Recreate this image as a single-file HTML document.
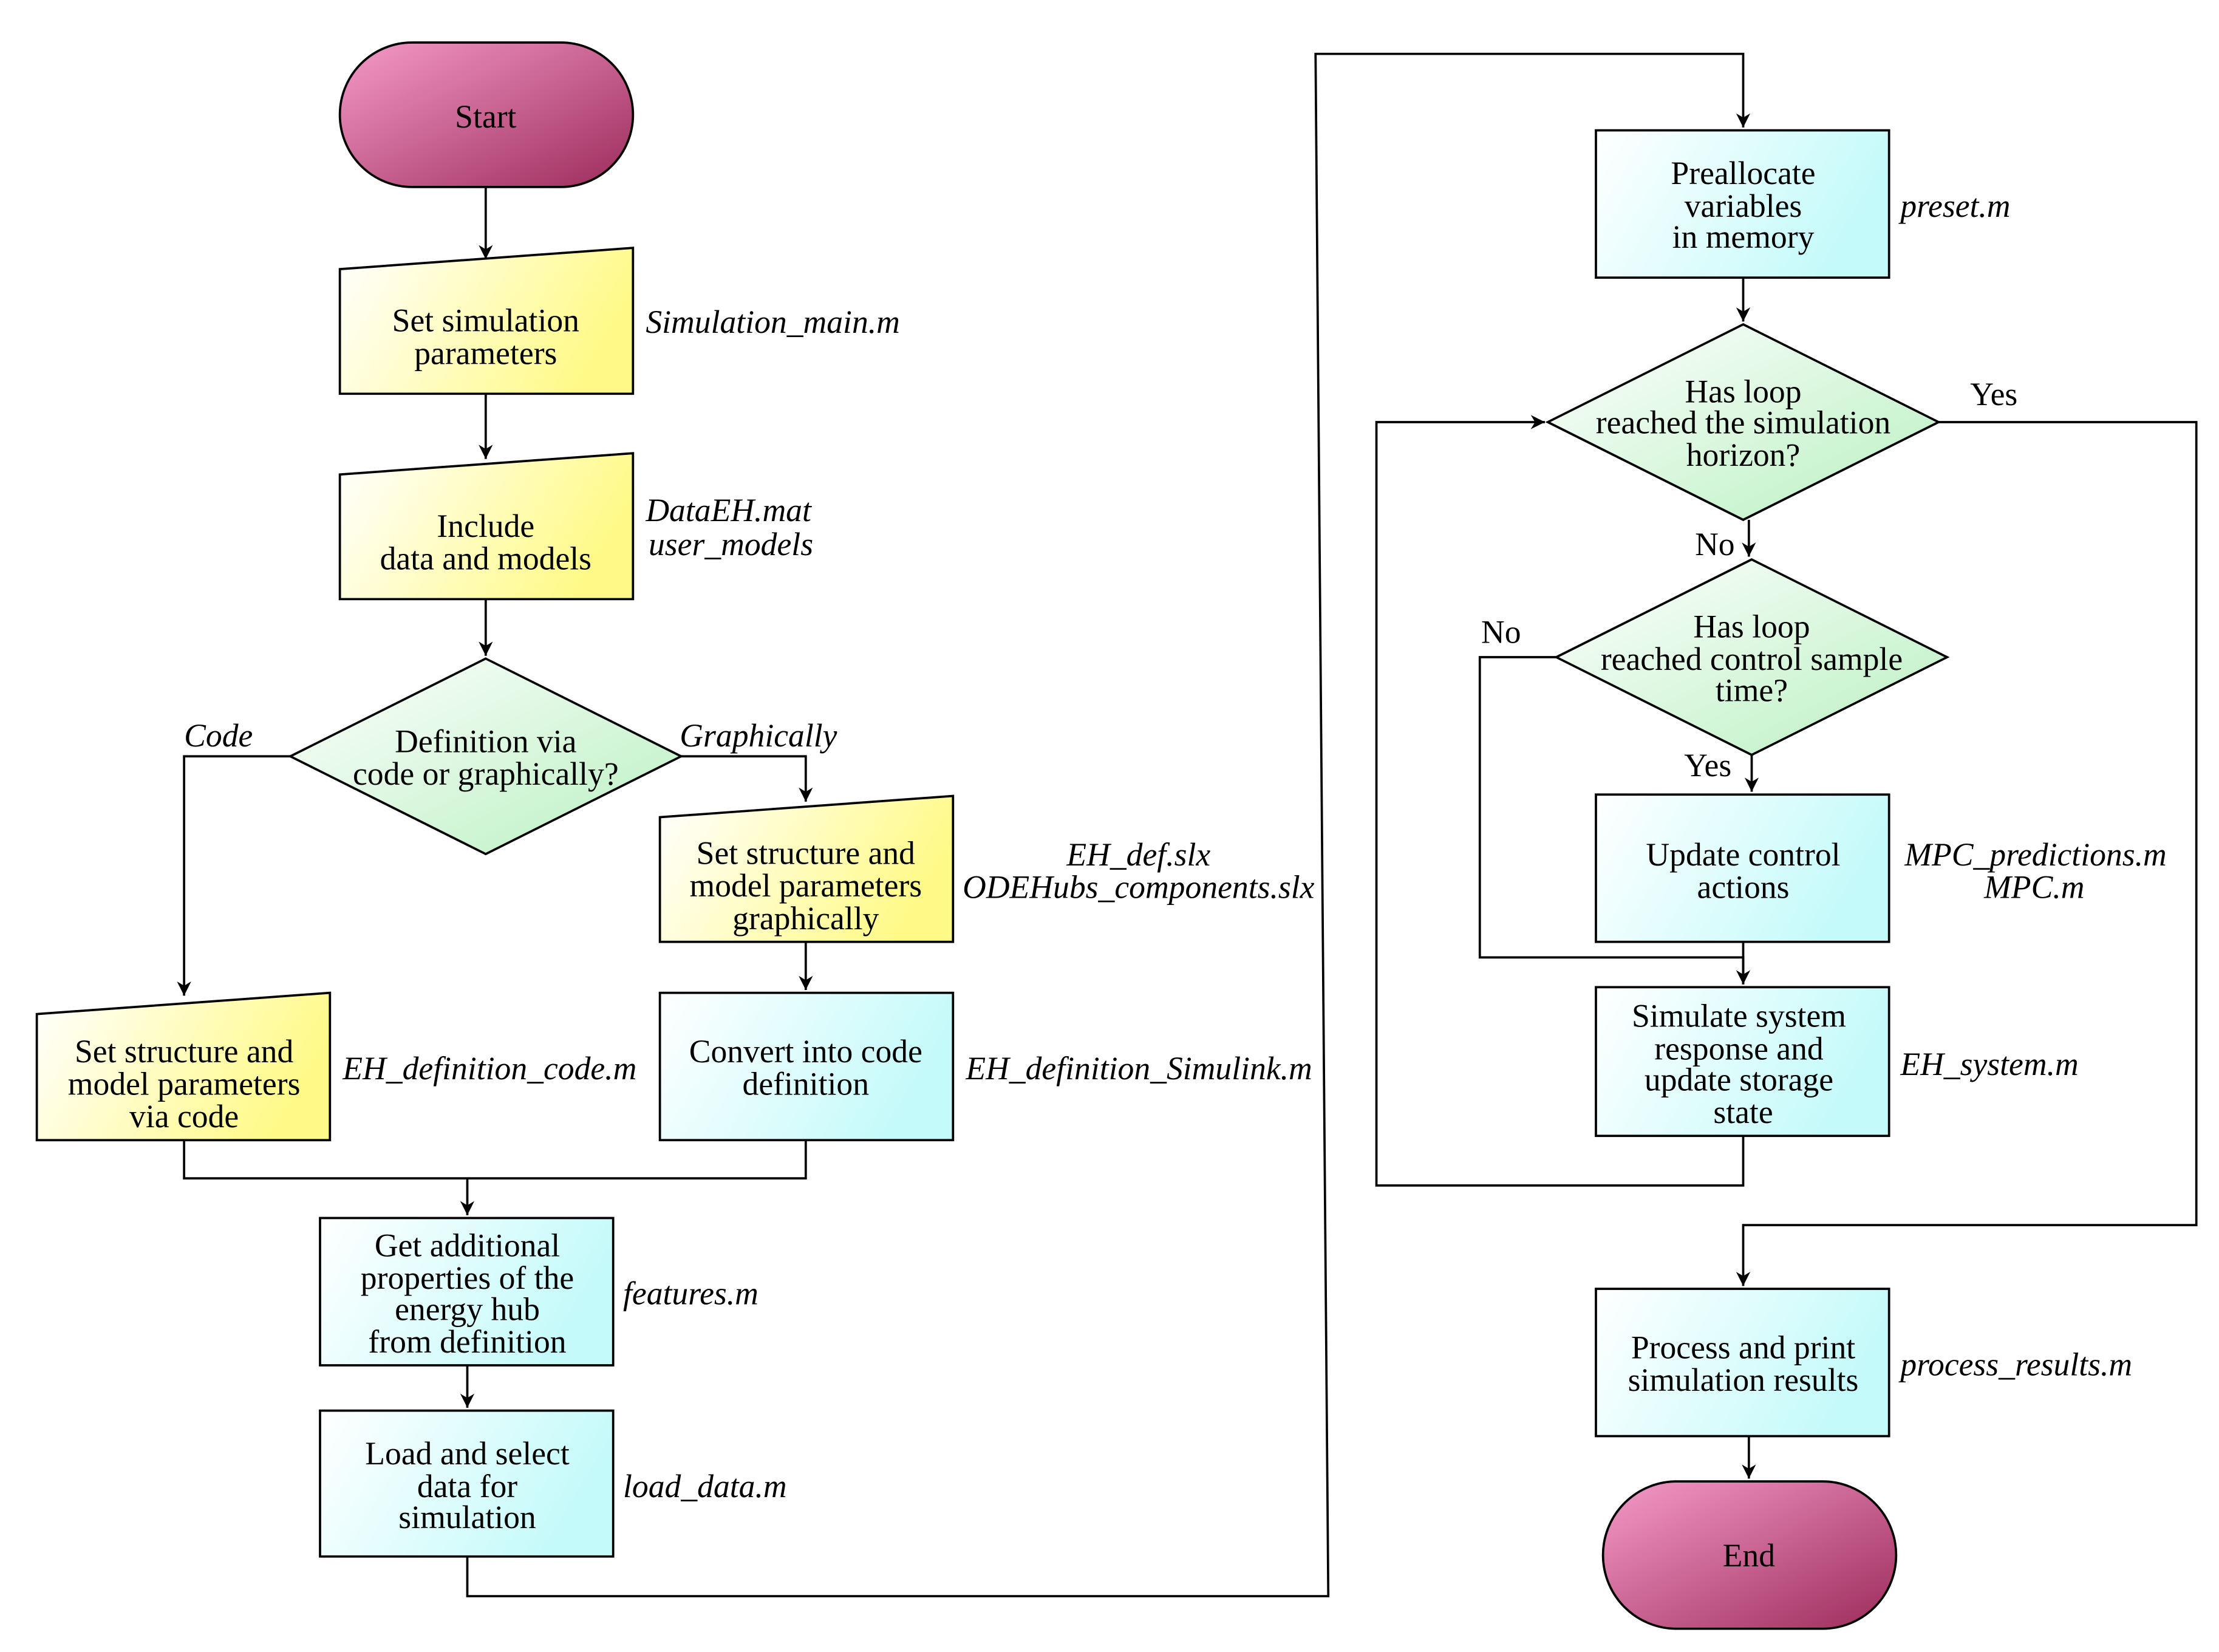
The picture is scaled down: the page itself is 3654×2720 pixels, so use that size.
<!DOCTYPE html>
<html><head><meta charset="utf-8"><style>html,body{margin:0;padding:0;background:#fff}svg{display:block}</style></head>
<body>
<svg width="3654" height="2720" viewBox="0 0 1567 1166.4" xmlns="http://www.w3.org/2000/svg" font-family="Liberation Serif, serif" font-size="23">
<defs>
<linearGradient id="pk" x1="0" y1="0" x2="1" y2="1"><stop offset="0" stop-color="#f59ac8"/><stop offset="1" stop-color="#9c2c5c"/></linearGradient>
<linearGradient id="yl" x1="0" y1="0" x2="1" y2="0.3"><stop offset="0" stop-color="#ffffff"/><stop offset="1" stop-color="#fffa88"/></linearGradient>
<linearGradient id="cy" x1="0" y1="0" x2="1" y2="0.3"><stop offset="0" stop-color="#ffffff"/><stop offset="1" stop-color="#c4fafa"/></linearGradient>
<linearGradient id="gr" x1="0" y1="0" x2="1" y2="1"><stop offset="0" stop-color="#ffffff"/><stop offset="1" stop-color="#b8f0c0"/></linearGradient>
<marker id="a" markerWidth="12" markerHeight="12" refX="10" refY="5" orient="auto" markerUnits="userSpaceOnUse"><path d="M0,0 L10,5 L0,10 L3,5 Z" fill="#000"/></marker>
</defs>
<g stroke="#000" stroke-width="1.6" fill="none">
<path d="M343,132 V183" marker-end="url(#a)"/>
<path d="M343,278 V324" marker-end="url(#a)"/>
<path d="M343,423 V463" marker-end="url(#a)"/>
<path d="M205,534 H130 V703" marker-end="url(#a)"/>
<path d="M481,534 H569 V566" marker-end="url(#a)"/>
<path d="M569,665 V699" marker-end="url(#a)"/>
<path d="M130,805 V832 H569 V805"/>
<path d="M330,832 V858" marker-end="url(#a)"/>
<path d="M330,964 V994" marker-end="url(#a)"/>
<path d="M330,1099 V1127 H938 L929,38 H1231 V90" marker-end="url(#a)"/>
<path d="M1231,196 V227" marker-end="url(#a)"/>
<path d="M1369,298 H1551 V865 H1231 V908" marker-end="url(#a)"/>
<path d="M1235,367 V393" marker-end="url(#a)"/>
<path d="M1099,464 H1045 V676 H1231 V695" marker-end="url(#a)"/>
<path d="M1237,533 V559" marker-end="url(#a)"/>
<path d="M1231,665 V695"/>
<path d="M1231,802 V837 H972 V298 H1091" marker-end="url(#a)"/>
<path d="M1235,1014 V1044" marker-end="url(#a)"/>
</g>
<g stroke="#000" stroke-width="1.6">
<rect x="240" y="30" width="207" height="102" rx="51" fill="url(#pk)"/>
<rect x="1132" y="1046" width="207" height="104" rx="52" fill="url(#pk)"/>
<path d="M240,190 L447,175 V278 H240 Z" fill="url(#yl)"/>
<path d="M240,335 L447,320 V423 H240 Z" fill="url(#yl)"/>
<path d="M466,577 L673,562 V665 H466 Z" fill="url(#yl)"/>
<path d="M26,716 L233,701 V805 H26 Z" fill="url(#yl)"/>
<path d="M343,465 L481,534 L343,603 L205,534 Z" fill="url(#gr)"/>
<path d="M1231,229 L1369,298 L1231,367 L1093,298 Z" fill="url(#gr)"/>
<path d="M1237,395 L1375,464 L1237,533 L1099,464 Z" fill="url(#gr)"/>
<rect x="466" y="701" width="207" height="104" fill="url(#cy)"/>
<rect x="226" y="860" width="207" height="104" fill="url(#cy)"/>
<rect x="226" y="996" width="207" height="103" fill="url(#cy)"/>
<rect x="1127" y="92" width="207" height="104" fill="url(#cy)"/>
<rect x="1127" y="561" width="207" height="104" fill="url(#cy)"/>
<rect x="1127" y="697" width="207" height="105" fill="url(#cy)"/>
<rect x="1127" y="910" width="207" height="104" fill="url(#cy)"/>
</g>
<g text-anchor="middle" fill="#000">
<text x="343" y="90">Start</text>
<text x="1235" y="1106">End</text>
<text x="343" y="234">Set simulation</text><text x="343" y="257">parameters</text>
<text x="343" y="379">Include</text><text x="343" y="402">data and models</text>
<text x="343" y="531">Definition via</text><text x="343" y="554">code or graphically?</text>
<text x="569" y="610">Set structure and</text><text x="569" y="633">model parameters</text><text x="569" y="656">graphically</text>
<text x="130" y="750">Set structure and</text><text x="130" y="773">model parameters</text><text x="130" y="796">via code</text>
<text x="569" y="750">Convert into code</text><text x="569" y="773">definition</text>
<text x="330" y="887">Get additional</text><text x="330" y="910">properties of the</text><text x="330" y="932">energy hub</text><text x="330" y="955">from definition</text>
<text x="330" y="1034">Load and select</text><text x="330" y="1057">data for</text><text x="330" y="1079">simulation</text>
<text x="1231" y="130">Preallocate</text><text x="1231" y="153">variables</text><text x="1231" y="175">in memory</text>
<text x="1231" y="284">Has loop</text><text x="1231" y="306">reached the simulation</text><text x="1231" y="329">horizon?</text>
<text x="1237" y="450">Has loop</text><text x="1237" y="473">reached control sample</text><text x="1237" y="495">time?</text>
<text x="1231" y="611">Update control</text><text x="1231" y="634">actions</text>
<text x="1228" y="725">Simulate system</text><text x="1228" y="748">response and</text><text x="1228" y="770">update storage</text><text x="1231" y="793">state</text>
<text x="1231" y="959">Process and print</text><text x="1231" y="982">simulation results</text>
<text x="1408" y="286">Yes</text>
<text x="1211" y="392">No</text>
<text x="1060" y="454">No</text>
<text x="1206" y="548">Yes</text>
</g>
<g font-style="italic" fill="#000">
<text x="130" y="527">Code</text>
<text x="480" y="527">Graphically</text>
<text x="456" y="235">Simulation_main.m</text>
<text x="456" y="368">DataEH.mat</text><text x="458" y="392">user_models</text>
<text x="804" y="611" text-anchor="middle">EH_def.slx</text><text x="804" y="634" text-anchor="middle">ODEHubs_components.slx</text>
<text x="242" y="762">EH_definition_code.m</text>
<text x="682" y="762">EH_definition_Simulink.m</text>
<text x="440" y="921">features.m</text>
<text x="440" y="1057">load_data.m</text>
<text x="1342" y="153">preset.m</text>
<text x="1530" y="611" text-anchor="end">MPC_predictions.m</text><text x="1472" y="634" text-anchor="end">MPC.m</text>
<text x="1342" y="759">EH_system.m</text>
<text x="1342" y="971">process_results.m</text>
</g>
</svg>
</body></html>
